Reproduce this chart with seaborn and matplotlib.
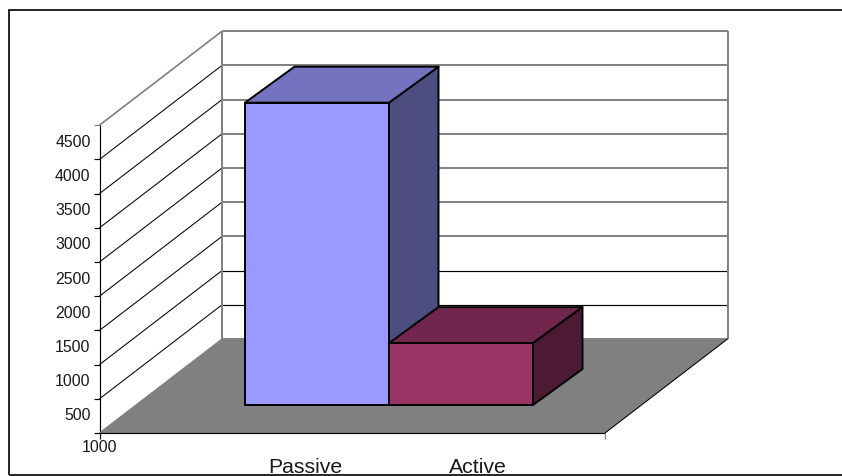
import matplotlib
matplotlib.use("Agg")
import matplotlib.pyplot as plt
from matplotlib.patches import Polygon, Rectangle
import pandas as pd
import seaborn as sns

categories = ["Passive", "Active"]
values = [4420, 905]
axis_labels = [500, 1000, 1500, 2000, 2500, 3000, 3500, 4000, 4500]
corner_label = "1000"
front_colors = ["#9999FF", "#993366"]
top_colors = ["#7373BF", "#73264D"]
side_colors = ["#4D4D80", "#4D1A33"]

W, H = 842, 476
CAT_PX = 144.0       # pixels per category
VAL_PX = 34.2 / 500  # pixels per value unit
X0_PX, Y0_PX = 317.0, 405.0   # first category centre, bar baseline

sns.set_theme(style="white", rc={"font.family": ["Liberation Sans", "DejaVu Sans"]})
fig = plt.figure(figsize=(W / 100, H / 100), dpi=100)
ax = fig.add_axes([0, 0, 1, 1])

# Bars recede by this much per unit of bar depth
BAR_DX, BAR_DY = 49.5 / CAT_PX, 36.0 / VAL_PX
# The chart box has a front-left corner, a width and its own receding vector
BOX_X = (99.5 - X0_PX) / CAT_PX
BOX_Y = (Y0_PX - 433.0) / VAL_PX
BOX_W = 505.5 / CAT_PX
BOX_DX, BOX_DY = 122.5 / CAT_PX, 94.0 / VAL_PX
V_STEP = 500
V_TOP = 4500
LEVELS = [V_STEP * i for i in range(0, 10)]

GRAY = "#808080"
TEXT = "#1a1a1a"


def bar_pt(cat, val, depth=0.0):
    """Oblique projection of a bar corner onto the plane of the bar fronts."""
    return (cat + depth * BAR_DX, val + depth * BAR_DY)


def box_pt(along, val, depth):
    """Oblique projection of a point of the chart box: along the width, up a wall, into depth."""
    return (BOX_X + along * BOX_W + depth * BOX_DX, BOX_Y + val + depth * BOX_DY)


def seg(a, b, color, lw, z=2):
    ax.plot(*zip(a, b), color=color, lw=lw, zorder=z, solid_capstyle="butt")


# Floor
ax.add_patch(Polygon([box_pt(0, 0, 0), box_pt(1, 0, 0), box_pt(1, 0, 1), box_pt(0, 0, 1)],
                     closed=True, fc=GRAY, ec="none", zorder=1))

# Grid lines on the side and back walls
for lv in LEVELS:
    if lv == 0:
        seg(box_pt(0, 0, 1), box_pt(1, 0, 1), GRAY, 1.4)
        continue
    top = lv == V_TOP
    seg(box_pt(0, lv, 0), box_pt(0, lv, 1), GRAY if top else "black", 1.2 if top else 0.75)
    soft = lv >= 1500
    seg(box_pt(0, lv, 1), box_pt(1, lv, 1), GRAY if soft else "black", 1.4 if soft else 0.85)

# Wall uprights
seg(box_pt(0, 0, 1), box_pt(0, V_TOP, 1), GRAY, 1.4)
seg(box_pt(1, 0, 1), box_pt(1, V_TOP, 1), GRAY, 1.4)
seg(box_pt(0, 0, 0), box_pt(0, V_TOP, 0), "black", 0.85, 3)

# Floor edges
seg(box_pt(0, 0, 0), box_pt(1, 0, 0), "black", 0.85, 3)
seg(box_pt(1, 0, 0), box_pt(1, 0, 1), "black", 0.75, 3)
seg(box_pt(0, 0, 0), box_pt(0, 0, 1), GRAY, 0.9, 3)

# Tick marks on the value axis and at both ends of the category axis
TICK_X, TICK_Y = 5.0 / CAT_PX, 5.5 / VAL_PX
for lv in LEVELS:
    xa, ya = box_pt(0, lv, 0)
    seg((xa - TICK_X, ya), (xa, ya), GRAY if lv == V_TOP else "black", 0.85, 3)
xa, ya = box_pt(0, 0, 0)
seg((xa, ya), (xa, ya - TICK_Y), "black", 0.85, 3)
xa, ya = box_pt(1, 0, 0)
seg((xa, ya), (xa, ya - TICK_Y), GRAY, 0.85, 3)

# Bars: top and side faces first, then the fronts from seaborn
frame = pd.DataFrame({"category": categories, "value": values})
for i, val in enumerate(values):
    l, r = i - 0.5, i + 0.5
    ax.add_patch(Polygon([bar_pt(l, val), bar_pt(r, val), bar_pt(r, val, 1), bar_pt(l, val, 1)],
                         closed=True, fc=top_colors[i], ec="black", lw=1.4,
                         zorder=4 + (1 - i), joinstyle="round"))
    ax.add_patch(Polygon([bar_pt(r, 0), bar_pt(r, val), bar_pt(r, val, 1), bar_pt(r, 0, 1)],
                         closed=True, fc=side_colors[i], ec="black", lw=1.4,
                         zorder=4 + i, joinstyle="round"))

sns.barplot(data=frame, x="category", y="value", hue="category", palette=front_colors,
            width=1.0, legend=False, ax=ax, edgecolor="black", linewidth=1.4, zorder=6,
            saturation=1.0)

# Pin the data scales to the pixel grid of the canvas
ax.set_xlim(-X0_PX / CAT_PX, (W - X0_PX) / CAT_PX)
ax.set_ylim((Y0_PX - H) / VAL_PX, Y0_PX / VAL_PX)
ax.set_axis_off()

# Value labels sit midway between the tick marks
for j, lab in enumerate(axis_labels):
    xa, ya = box_pt(0, LEVELS[j] + V_STEP / 2, 0)
    ax.text(xa - 9.0 / CAT_PX, ya, str(lab), ha="right", va="center", fontsize=11.4,
            color=TEXT, zorder=7)
xa, ya = box_pt(0, 0, 0)
ax.text(xa, ya - 14.5 / VAL_PX, corner_label, ha="center", va="center", fontsize=11.4,
        color=TEXT, zorder=7)

# Category labels
for lab, px in zip(categories, [305.0, 477.5]):
    ax.text((px - X0_PX) / CAT_PX, (Y0_PX - 473.0) / VAL_PX, lab, ha="center", va="baseline",
            fontsize=15.3, color=TEXT, zorder=7)

# Outer frame, running off the right edge of the canvas
ax.add_patch(Rectangle((ax.get_xlim()[0] + 9.0 / CAT_PX, (Y0_PX - 474.5) / VAL_PX),
                       (W + 20 - 9.0) / CAT_PX, (474.5 - 9.5) / VAL_PX,
                       fc="none", ec="black", lw=1.2, zorder=8, clip_on=True))

fig.savefig("out.png", dpi=100, facecolor="white")
